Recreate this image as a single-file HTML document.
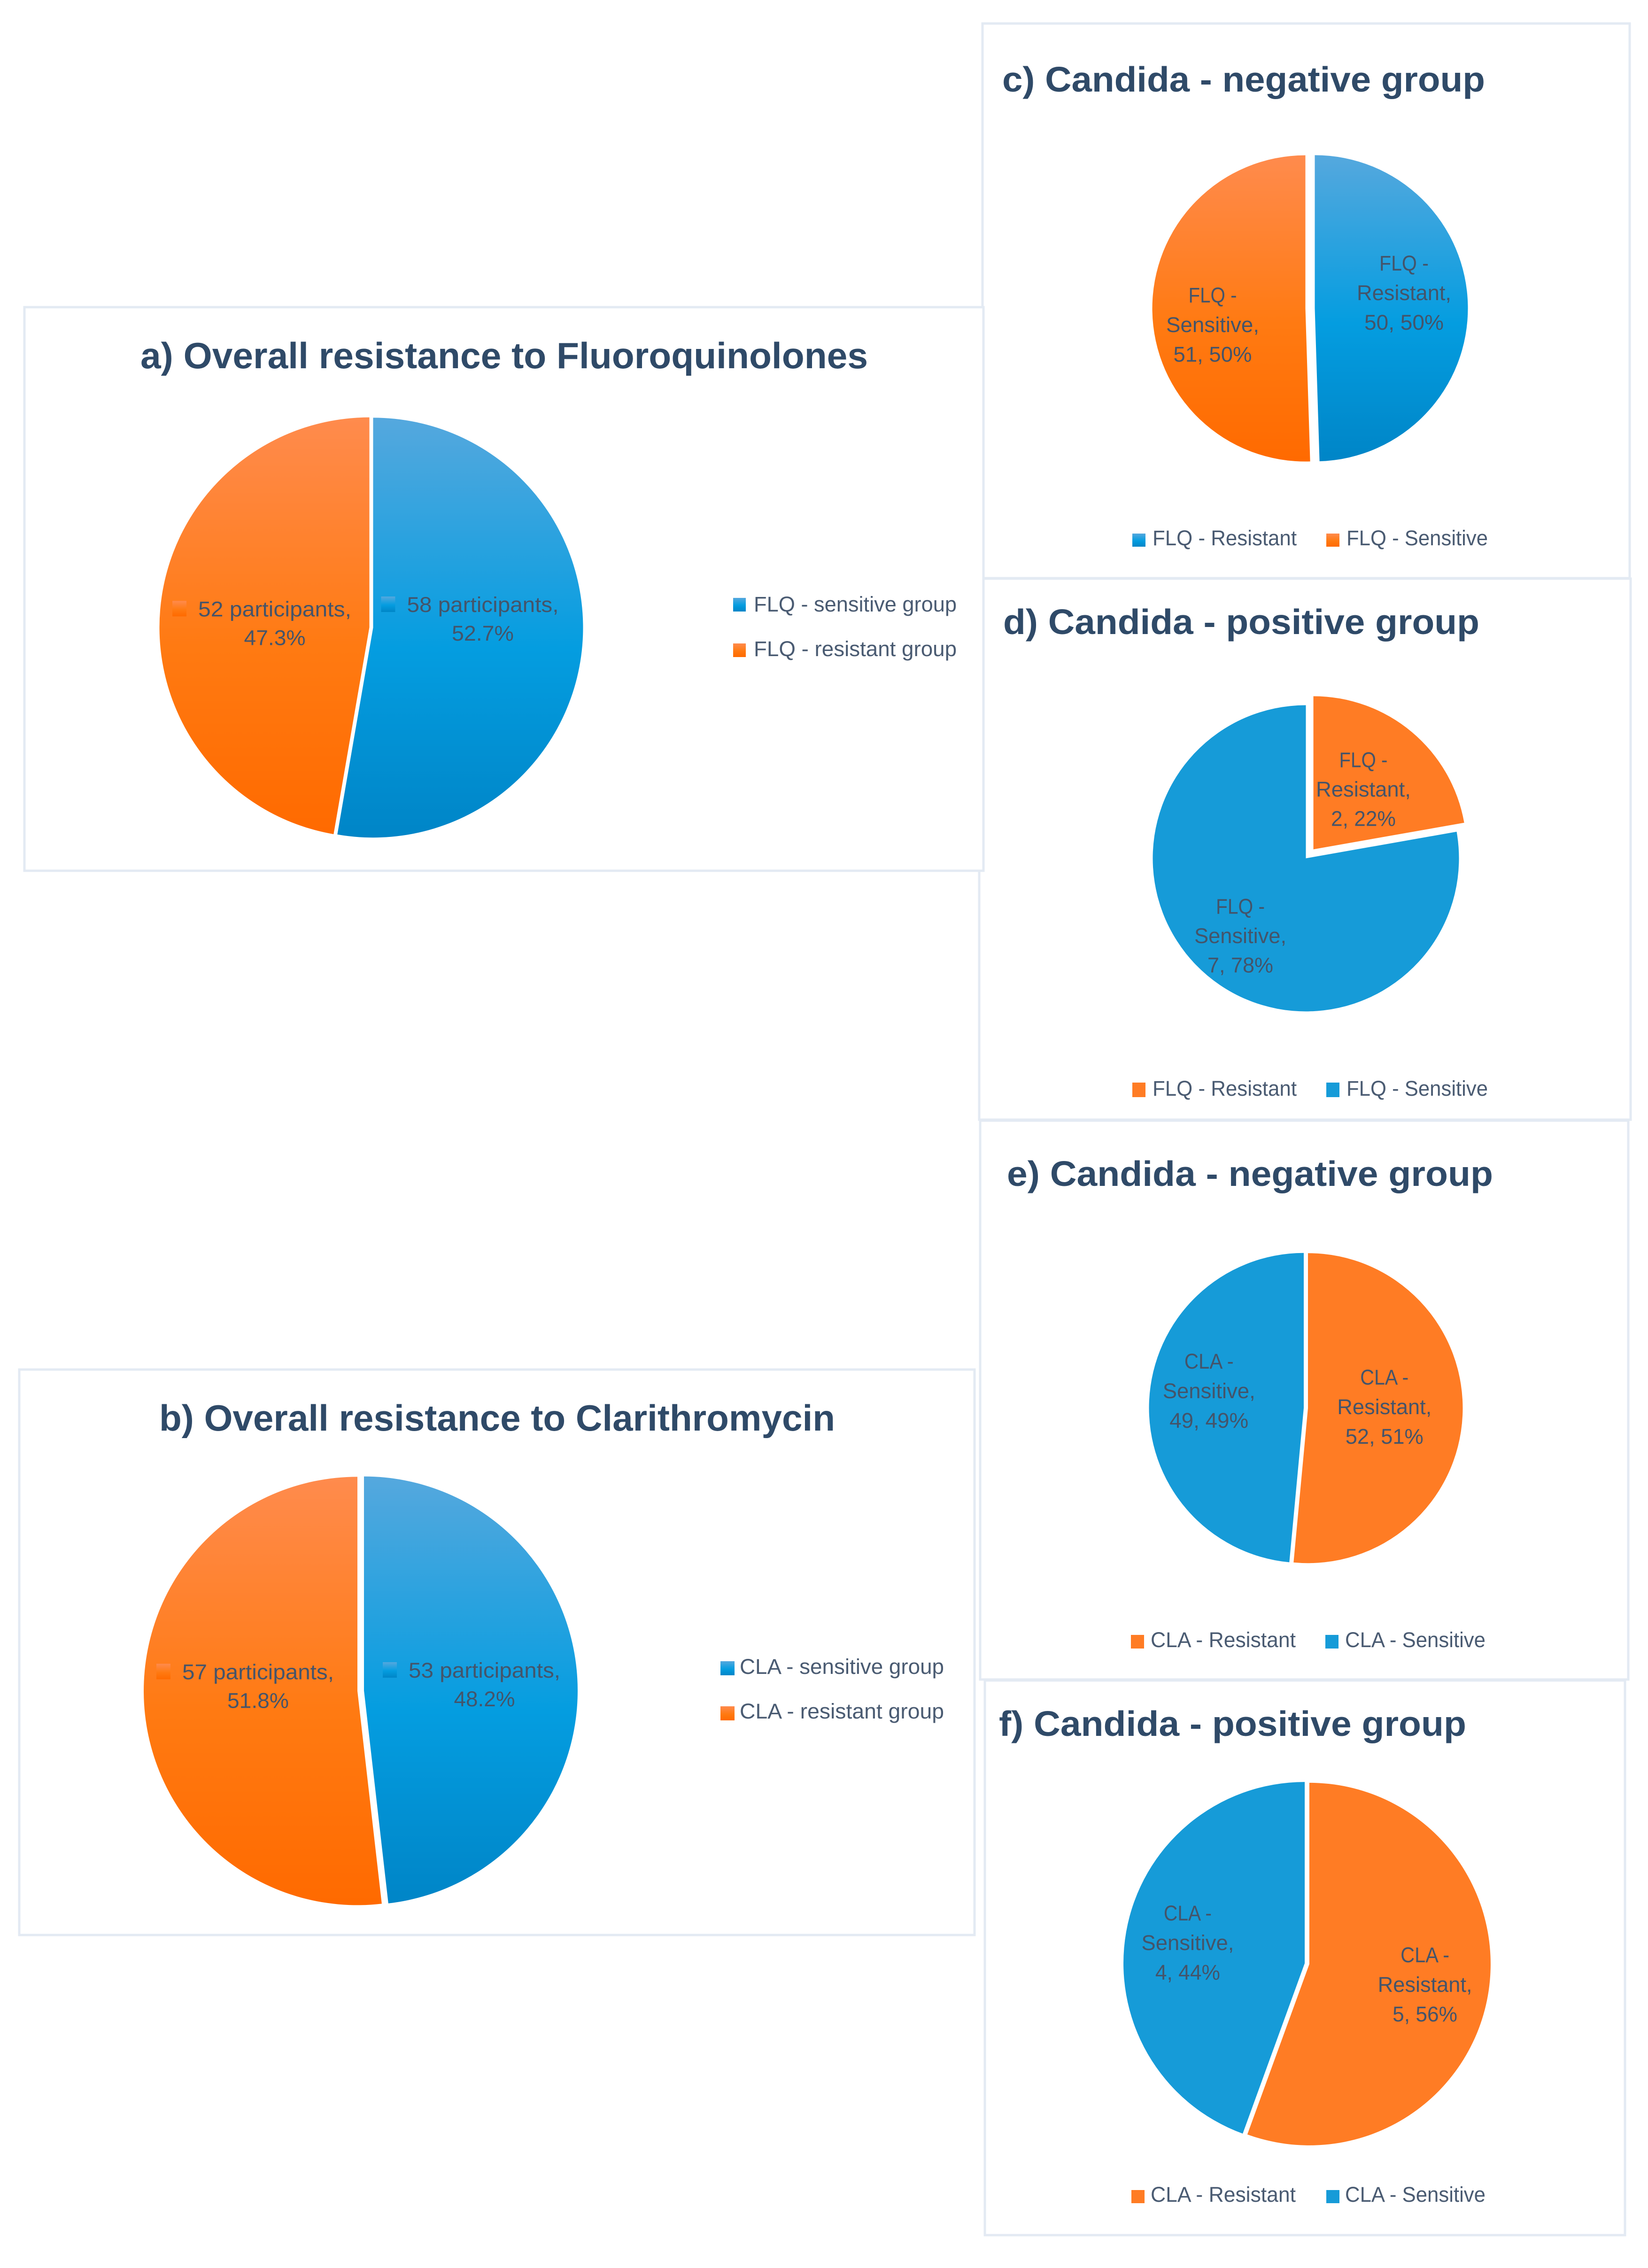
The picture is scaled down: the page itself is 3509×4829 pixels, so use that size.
<!DOCTYPE html>
<html lang="en">
<head>
<meta charset="utf-8">
<title>Resistance to Fluoroquinolones and Clarithromycin</title>
<style>
  html, body { margin: 0; padding: 0; background: #ffffff; }
  svg { display: block; }
  text { font-family: "Liberation Sans", sans-serif; }
  .panel { fill: #ffffff; stroke: #e3eaf3; stroke-width: 5; }
  .title { font-weight: 700; fill: #2f4a68; }
</style>
</head>
<body>
<svg id="figure" xmlns="http://www.w3.org/2000/svg" width="3509" height="4829" viewBox="0 0 3509 4829">
  <defs>
    <linearGradient id="blueGrad" x1="0" y1="0" x2="0" y2="1">
      <stop offset="0" stop-color="#55a8de"/>
      <stop offset="0.55" stop-color="#049de0"/>
      <stop offset="1" stop-color="#0085c7"/>
    </linearGradient>
    <linearGradient id="orangeGrad" x1="0" y1="0" x2="0" y2="1">
      <stop offset="0" stop-color="#ff8b4d"/>
      <stop offset="0.55" stop-color="#ff7a12"/>
      <stop offset="1" stop-color="#ff6a00"/>
    </linearGradient>
  </defs>
  <rect width="3509" height="4829" fill="#ffffff"/>

  <g id="panel-c">
    <rect class="panel" x="2092" y="50" width="1378" height="1181"/>
    <text class="title" x="2134" y="195" font-size="75" textLength="1028" lengthAdjust="spacingAndGlyphs">c) Candida - negative group</text>
  </g>
  <g id="panel-d">
    <rect class="panel" x="2085" y="1232" width="1387" height="1152"/>
    <text class="title" x="2136" y="1350" font-size="75" textLength="1014" lengthAdjust="spacingAndGlyphs">d) Candida - positive group</text>
  </g>
  <g id="panel-f">
    <rect class="panel" x="2097" y="3578" width="1363" height="1181"/>
    <text class="title" x="2127" y="3696" font-size="75" textLength="995" lengthAdjust="spacingAndGlyphs">f) Candida - positive group</text>
  </g>
  <g id="panel-e">
    <rect class="panel" x="2087" y="2386" width="1380" height="1190"/>
    <text class="title" x="2144" y="2525" font-size="75" textLength="1035" lengthAdjust="spacingAndGlyphs">e) Candida - negative group</text>
  </g>
  <g id="panel-a">
    <rect class="panel" x="52" y="654" width="2042" height="1200"/>
    <text class="title" x="299" y="784" font-size="78" textLength="1549" lengthAdjust="spacingAndGlyphs">a) Overall resistance to Fluoroquinolones</text>
  </g>
  <g id="panel-b">
    <rect class="panel" x="41" y="2916" width="2034" height="1204"/>
    <text class="title" x="339" y="3046" font-size="78" textLength="1439" lengthAdjust="spacingAndGlyphs">b) Overall resistance to Clarithromycin</text>
  </g>
</svg>

<script>
// ---- chart data ----
const panelACategories = ["FLQ - sensitive group", "FLQ - resistant group"];
const panelAValues = [58, 52];
const panelAPercents = ["52.7%", "47.3%"];

const panelBCategories = ["CLA - sensitive group", "CLA - resistant group"];
const panelBValues = [53, 57];
const panelBPercents = ["48.2%", "51.8%"];

const panelCCategories = ["FLQ - Resistant", "FLQ - Sensitive"];
const panelCValues = [50, 51];
const panelCPercents = ["50%", "50%"];

const panelDCategories = ["FLQ - Resistant", "FLQ - Sensitive"];
const panelDValues = [2, 7];
const panelDPercents = ["22%", "78%"];

const panelECategories = ["CLA - Resistant", "CLA - Sensitive"];
const panelEValues = [52, 49];
const panelEPercents = ["51%", "49%"];

const panelFCategories = ["CLA - Resistant", "CLA - Sensitive"];
const panelFValues = [5, 4];
const panelFPercents = ["56%", "44%"];

// ---- layout and styling ----
const SVG_NS = "http://www.w3.org/2000/svg";
const BLUE_GRAD = "url(#blueGrad)";
const ORANGE_GRAD = "url(#orangeGrad)";
const BLUE_FLAT = "#169bd8";
const ORANGE_FLAT = "#ff7c24";
const LABEL_COLOR = "#44546a";
const LEGEND_COLOR = "#4a5b72";
const TEXT_RAISE = 3;

const charts = [
  { key: "a", categories: panelACategories, values: panelAValues, percents: panelAPercents, style: "participants",
    fills: [BLUE_GRAD, ORANGE_GRAD], cx: 790.5, cy: 1336, rx: 447, ry: 447, explode: [4, 4],
    nudge: [[10.8, -18.9], [21.2, 29.4]], lineHeight: 61, widths: [[323, 132], [326, 131]],
    legend: { swatchX: [1561, 1561], swatchY: [1273, 1370], swatchW: 27, swatchH: 29, textX: [1605, 1605], baseline: [1305, 1400], textW: [432, 432] } },
  { key: "b", categories: panelBCategories, values: panelBValues, percents: panelBPercents, style: "participants",
    fills: [BLUE_GRAD, ORANGE_GRAD], cx: 768, cy: 3600, rx: 455, ry: 456, explode: [7, 7],
    nudge: [[29.4, 19], [15.6, -4.5]], lineHeight: 61, widths: [[323, 130], [323, 131]],
    legend: { swatchX: [1534, 1534], swatchY: [3537, 3633], swatchW: 30, swatchH: 30, textX: [1575, 1575], baseline: [3567, 3662], textW: [435, 435] } },
  { key: "c", categories: panelCCategories, values: panelCValues, percents: panelCPercents, style: "named",
    fills: [BLUE_GRAD, ORANGE_GRAD], cx: 2789.5, cy: 656.5, rx: 326, ry: 326, explode: [10, 10],
    nudge: [[27, -11.7], [-34.5, 50.7]], lineHeight: 63, widths: [[105, 201, 169], [103, 198, 167]],
    legend: { swatchX: [2411, 2824], swatchY: [1136, 1136], swatchW: 28, swatchH: 28, textX: [2454, 2867], baseline: [1164, 1164], textW: [307, 301] } },
  { key: "d", categories: panelDCategories, values: panelDValues, percents: panelDPercents, style: "named",
    fills: [ORANGE_FLAT, BLUE_FLAT], cx: 2780.5, cy: 1827.5, rx: 326, ry: 326, explode: [25, 0],
    nudge: [[1.6, 15.5], [-34.7, 58.6]], lineHeight: 62.5, widths: [[103, 202, 138], [104, 196, 140]],
    legend: { swatchX: [2411, 2824], swatchY: [2305, 2305], swatchW: 28, swatchH: 31, textX: [2454, 2867], baseline: [2336, 2336], textW: [307, 301] } },
  { key: "e", categories: panelECategories, values: panelEValues, percents: panelEPercents, style: "named",
    fills: [ORANGE_FLAT, BLUE_FLAT], cx: 2780.5, cy: 2998, rx: 329.5, ry: 330, explode: [4.5, 4.5],
    nudge: [[-1.8, 8], [-37.2, -10]], lineHeight: 63, widths: [[103, 201, 166], [105, 197, 168]],
    legend: { swatchX: [2408, 2822], swatchY: [3481, 3481], swatchW: 28, swatchH: 29, textX: [2450, 2864], baseline: [3510, 3510], textW: [309, 299] } },
  { key: "f", categories: panelFCategories, values: panelFValues, percents: panelFPercents, style: "named",
    fills: [ORANGE_FLAT, BLUE_FLAT], cx: 2783, cy: 4181, rx: 386, ry: 386, explode: [5, 5],
    nudge: [[56.1, 28.6], [-59.1, 8.4]], lineHeight: 63, widths: [[104, 201, 138], [102, 197, 138]],
    legend: { swatchX: [2409, 2824], swatchY: [4663, 4663], swatchW: 28, swatchH: 28, textX: [2450, 2864], baseline: [4691, 4691], textW: [309, 299] } }
];

function angleScale(values) {
  const total = values.reduce(function (s, v) { return s + v; }, 0);
  return function (v) { return (v / total) * 2 * Math.PI; };
}

function slicePath(ax, ay, rx, ry, a0, a1) {
  const x0 = ax + rx * Math.sin(a0), y0 = ay - ry * Math.cos(a0);
  const x1 = ax + rx * Math.sin(a1), y1 = ay - ry * Math.cos(a1);
  const large = a1 - a0 > Math.PI ? 1 : 0;
  return "M" + ax + " " + ay + "L" + x0 + " " + y0 + "A" + rx + " " + ry + " 0 " + large + " 1 " + x1 + " " + y1 + "Z";
}

function makeText(parent, str, x, y, size, fill, anchor, width) {
  const el = document.createElementNS(SVG_NS, "text");
  el.setAttribute("x", x);
  el.setAttribute("y", y - TEXT_RAISE);
  el.setAttribute("font-size", size);
  el.setAttribute("fill", fill);
  el.setAttribute("text-anchor", anchor);
  el.setAttribute("textLength", width);
  el.setAttribute("lengthAdjust", "spacingAndGlyphs");
  el.textContent = str;
  parent.appendChild(el);
  return el;
}

function labelLines(chart, i) {
  if (chart.style === "participants") {
    return [chart.values[i] + " participants,", chart.percents[i]];
  }
  const parts = chart.categories[i].split(" - ");
  return [parts[0] + " -", parts[1] + ",", chart.values[i] + ", " + chart.percents[i]];
}

charts.forEach(function (chart) {
  const group = document.getElementById("panel-" + chart.key);
  const toAngle = angleScale(chart.values);
  let start = 0;

  chart.values.forEach(function (value, i) {
    const span = toAngle(value);
    const mid = start + span / 2;
    const ax = chart.cx + chart.explode[i] * Math.sin(mid);
    const ay = chart.cy - chart.explode[i] * Math.cos(mid);

    const slice = document.createElementNS(SVG_NS, "path");
    slice.setAttribute("d", slicePath(ax, ay, chart.rx, chart.ry, start, start + span));
    slice.setAttribute("fill", chart.fills[i]);
    
    
    group.appendChild(slice);

    const lines = labelLines(chart, i);
    const px = ax + 0.5 * chart.rx * Math.sin(mid) + chart.nudge[i][0];
    const py = ay - 0.5 * chart.ry * Math.cos(mid) + chart.nudge[i][1];
    lines.forEach(function (line, n) {
      const y = py + (n - (lines.length - 1) / 2) * chart.lineHeight;
      const label = makeText(group, line, px, y, 45, LABEL_COLOR, "middle", chart.widths[i][n]);
      
      
    });

    if (chart.style === "participants") {
      const key = document.createElementNS(SVG_NS, "rect");
      key.setAttribute("x", px - chart.widths[i][0] / 2 - 55);
      key.setAttribute("y", py - chart.lineHeight / 2 - 36);
      key.setAttribute("width", 30);
      key.setAttribute("height", 33);
      key.setAttribute("fill", chart.fills[i]);
      
      
      group.appendChild(key);
    }
    start += span;
  });

  chart.categories.forEach(function (category, i) {
    const swatch = document.createElementNS(SVG_NS, "rect");
    swatch.setAttribute("x", chart.legend.swatchX[i]);
    swatch.setAttribute("y", chart.legend.swatchY[i]);
    swatch.setAttribute("width", chart.legend.swatchW);
    swatch.setAttribute("height", chart.legend.swatchH);
    swatch.setAttribute("fill", chart.fills[i]);
    
    
    group.appendChild(swatch);

    const entry = makeText(group, category, chart.legend.textX[i], chart.legend.baseline[i], 45, LEGEND_COLOR, "start", chart.legend.textW[i]);
    
    
  });
});
</script>
</body>
</html>
